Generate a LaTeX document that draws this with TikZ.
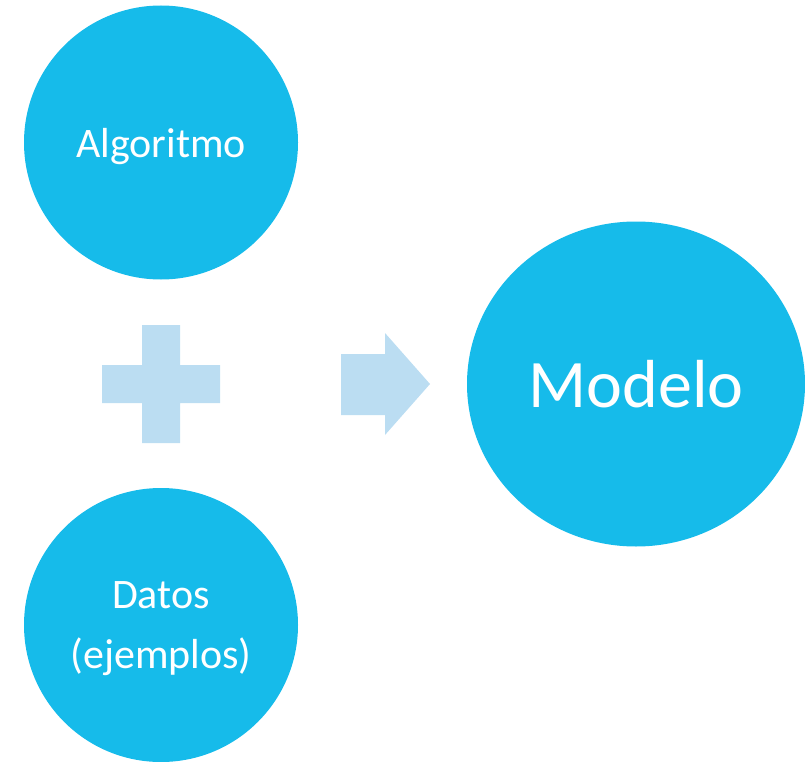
\documentclass[tikz,border=0pt]{standalone}
\usepackage{fontspec}
\setmainfont{Carlito}
\usetikzlibrary{shapes.geometric}
\definecolor{bubbleblue}{RGB}{22,187,234}
\definecolor{signblue}{RGB}{187,221,242}
\tikzstyle{bubble}=[circle,fill=bubbleblue,text=white,inner sep=0pt,minimum size=274pt,align=center,
  text depth=0pt,font=\fontsize{42}{60}\selectfont]
\tikzstyle{sign}=[fill=signblue]

\begin{document}
\begin{tikzpicture}[x=1pt,y=-1pt]
    \useasboundingbox (0,0) rectangle (805,762);

    \node[bubble] (algo) at (161,142.5) {Algoritmo};
    \node[bubble] (datos) at (161,625) {Datos\\(ejemplos)};
    \node[bubble,ellipse,minimum width=338pt,minimum height=325pt,
      font=\fontsize{68}{80}\selectfont] (modelo) at (636,384) {Modelo};

    \fill[sign] (142,325)--(180,325)--(180,365)--(220,365)--(220,403)--(180,403)
    --(180,443)--(142,443)--(142,403)--(102,403)--(102,365)--(142,365)--cycle;

    \fill[sign] (341,354)--(385,354)--(385,333)--(430,384)--(385,435)--(385,415)
    --(341,415)--cycle;
\end{tikzpicture}
\end{document}
